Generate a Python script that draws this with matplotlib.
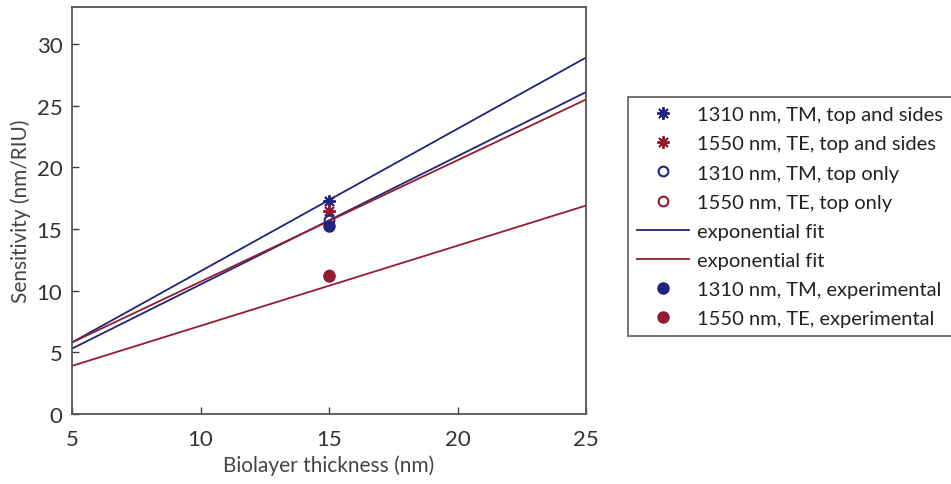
import matplotlib
matplotlib.use("Agg")
import matplotlib.pyplot as plt

plt.rcParams['font.family'] = ['Lato', 'DejaVu Sans']

blue = '#22237a'
red = '#931c32'

# fit lines (endpoints)
fit_x = [5, 25]
fit_tm_sides = [5.8, 28.9]
fit_te_sides = [5.8, 25.5]
fit_tm_top = [5.3, 26.1]
fit_te_top = [3.9, 16.9]

# points at 15 nm
pt_x = [15]
tm_sides = [17.3]
te_sides = [16.5]
tm_top = [15.7]
te_top = [11.3]
tm_exp = [15.25]
te_exp = [11.15]

fig = plt.figure(figsize=(9.51, 4.85), dpi=100)
ax = fig.add_axes([72/951, 70/485, (586-72)/951, (415-8)/485])

star = (8, 2, 0)
h1, = ax.plot(pt_x, tm_sides, linestyle='none', marker=star, color=blue, markersize=9, markeredgewidth=1.4, label='1310 nm, TM, top and sides')
h2, = ax.plot(pt_x, te_sides, linestyle='none', marker=star, color=red, markersize=9, markeredgewidth=1.4, label='1550 nm, TE, top and sides')
h3, = ax.plot(pt_x, tm_top, linestyle='none', marker='o', mfc='white', mec=blue, markersize=7, markeredgewidth=1.5, label='1310 nm, TM, top only')
h4, = ax.plot(pt_x, te_top, linestyle='none', marker='o', mfc='white', mec=red, markersize=7, markeredgewidth=1.5, label='1550 nm, TE, top only')
h5, = ax.plot(fit_x, fit_tm_sides, color=blue, lw=1.3, label='exponential fit')
ax.plot(fit_x, fit_tm_top, color=blue, lw=1.3)
h6, = ax.plot(fit_x, fit_te_sides, color=red, lw=1.3, label='exponential fit')
ax.plot(fit_x, fit_te_top, color=red, lw=1.3)
h7, = ax.plot(pt_x, tm_exp, linestyle='none', marker='o', color=blue, markersize=8, label='1310 nm, TM, experimental')
h8, = ax.plot(pt_x, te_exp, linestyle='none', marker='o', color=red, markersize=8, label='1550 nm, TE, experimental')

ax.set_xlim(5, 25)
ax.set_ylim(0, 33)
ax.set_xticks([5, 10, 15, 20, 25])
ax.set_yticks([0, 5, 10, 15, 20, 25, 30])
ax.tick_params(direction='in', length=5, width=1, colors='#404040', labelsize=16, labelcolor='#333333')
ax.tick_params(axis='x', pad=11)
ax.tick_params(axis='y', pad=7)
for s in ax.spines.values():
    s.set_color('#555555')
    s.set_linewidth(1.3)
ax.set_xlabel('Biolayer thickness (nm)', fontsize=15, color='#444444', labelpad=4)
ax.set_ylabel('Sensitivity (nm/RIU)', fontsize=15, color='#444444', labelpad=4)

leg = fig.legend(handles=[h1, h2, h3, h4, h5, h6, h7, h8], loc='upper left',
                 bbox_to_anchor=(628/951, 1-98/485), fontsize=14.5, frameon=True,
                 fancybox=False, edgecolor='#444444', handlelength=2.6,
                 borderpad=0.45, labelspacing=0.6, handletextpad=0.4,
                 borderaxespad=0)
leg.get_frame().set_linewidth(1.3)
for t in leg.get_texts():
    t.set_color('#222222')

fig.savefig('out.png', dpi=100)
